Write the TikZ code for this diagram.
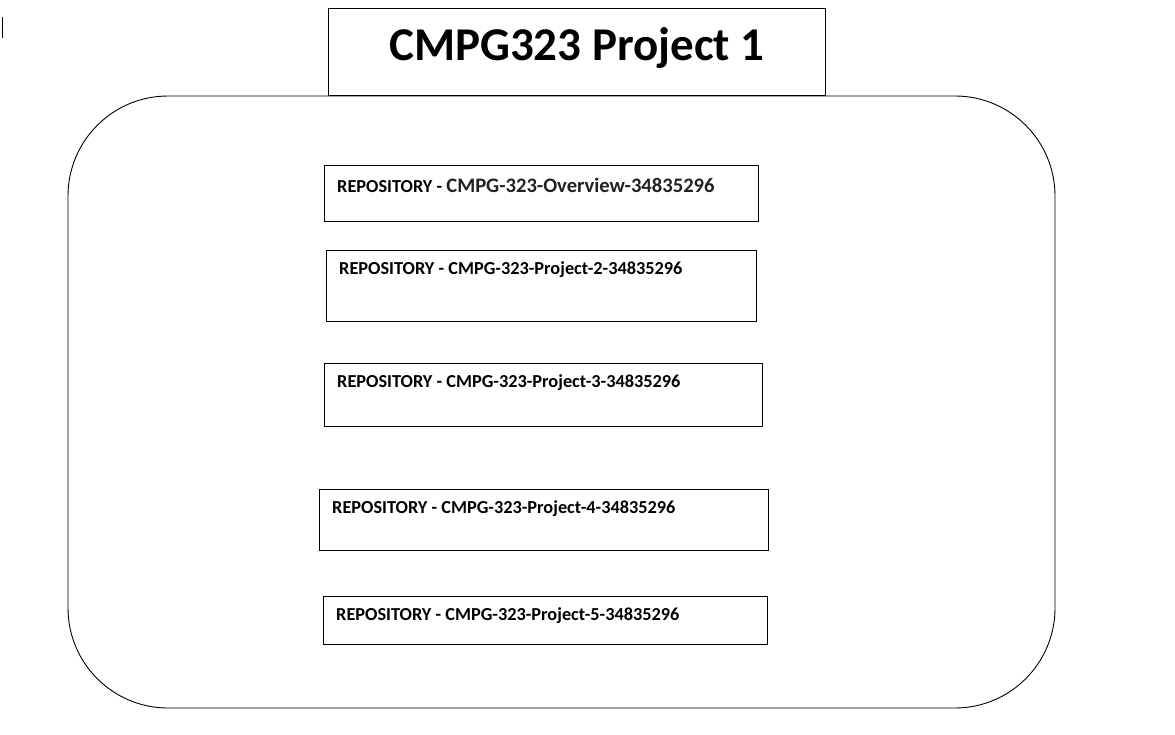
\documentclass[tikz,border=0pt]{standalone}
\usepackage{fontspec}
\setmainfont{Carlito}
\usetikzlibrary{calc}
\definecolor{ovgray}{HTML}{222222}
\newcommand\ovlfont{\fontsize{20.6}{24}\selectfont\color{ovgray}}
\begin{document}
\begin{tikzpicture}[x=1pt,y=-1pt,
  box/.style={draw=black,line width=0.8pt,rectangle,inner sep=0pt,anchor=north west},
  lbl/.style={anchor=base west,inner sep=0pt,font=\bfseries\fontsize{18.3}{22}\selectfont}]
\useasboundingbox[fill=white] (0,0) rectangle (1175,734);
% cursor mark
\draw[line width=0.9pt] (2,17) -- (2,38);
% container
\draw[line width=0.9pt,rounded corners=100pt] (68,96) rectangle (1055,708);
% title
\node[box,minimum width=497pt,minimum height=87pt] (title) at (328,8) {};
\node[font=\bfseries\fontsize{47}{54}\selectfont,inner sep=0pt] (tt) at ($(title.center)+(0,-4)$) {CMPG323 Project 1};
% repository boxes
\node[box,minimum width=434pt,minimum height=56pt] (b1) at (324,165) {};
\node[lbl] (t1) at ($(b1.north west)+(13,27)$) {REPOSITORY - {\ovlfont CMPG-323-Overview-34835296}};
\node[box,minimum width=430pt,minimum height=71pt] (b2) at (326,250) {};
\node[lbl] (t2) at ($(b2.north west)+(13,24)$) {REPOSITORY - CMPG-323-Project-2-34835296};
\node[box,minimum width=438pt,minimum height=63pt] (b3) at (324,363) {};
\node[lbl] (t3) at ($(b3.north west)+(13,24)$) {REPOSITORY - CMPG-323-Project-3-34835296};
\node[box,minimum width=449pt,minimum height=61pt] (b4) at (319,489) {};
\node[lbl] (t4) at ($(b4.north west)+(13,24)$) {REPOSITORY - CMPG-323-Project-4-34835296};
\node[box,minimum width=444pt,minimum height=48pt] (b5) at (323,596) {};
\node[lbl] (t5) at ($(b5.north west)+(13,24)$) {REPOSITORY - CMPG-323-Project-5-34835296};
\end{tikzpicture}
\end{document}
